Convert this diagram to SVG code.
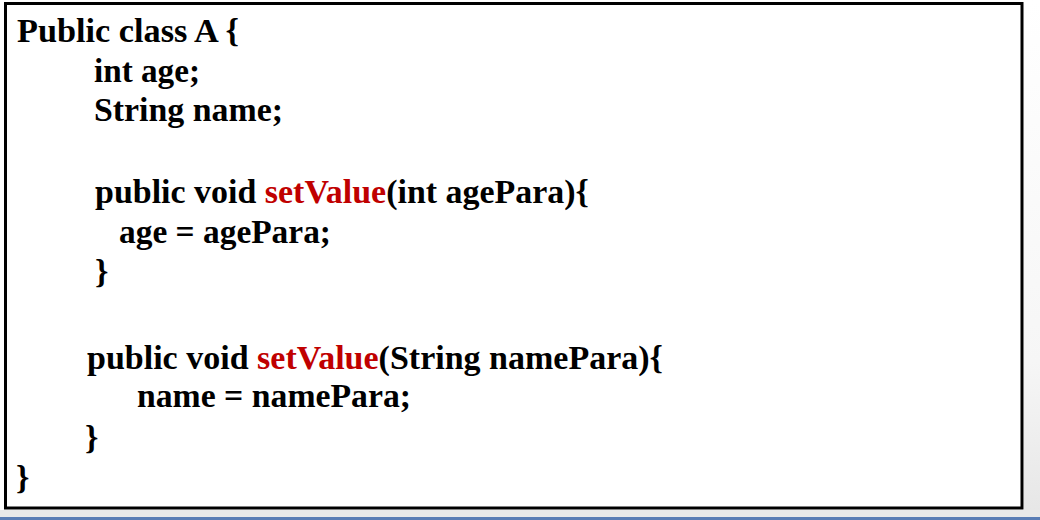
<svg xmlns="http://www.w3.org/2000/svg" width="1040" height="520" viewBox="0 0 1040 520">
  <style>
    .code { font-family: "Liberation Serif", "Times New Roman", serif; font-weight: bold; font-size: 34px; fill: #000000; }
    .kw { fill: #c00000; }
  </style>
  <defs>
    <linearGradient id="sideShade" x1="0" y1="0" x2="0" y2="1">
      <stop offset="0" stop-color="#ffffff"/>
      <stop offset="0.7" stop-color="#f6f6f6"/>
      <stop offset="1" stop-color="#e6e6e6"/>
    </linearGradient>
  </defs>
  <rect x="0" y="0" width="1040" height="520" fill="#ffffff"/>
  <rect x="1024" y="0" width="16" height="517" fill="url(#sideShade)"/>
  <rect x="0" y="510" width="1040" height="7" fill="#e9e9e9"/>
  <rect x="0" y="517" width="1040" height="3" fill="#5a7db5"/>
  <g id="codeBox">
    <rect x="5.5" y="3.5" width="1016.5" height="504.5" fill="#ffffff" stroke="#000000" stroke-width="3"/>
  </g>
  <g id="code">
    <text class="code" x="17" y="42" textLength="222" lengthAdjust="spacingAndGlyphs">Public class A {</text>
    <text class="code" x="94" y="82" textLength="106" lengthAdjust="spacingAndGlyphs">int age;</text>
    <text class="code" x="94" y="121" textLength="189" lengthAdjust="spacingAndGlyphs">String name;</text>
    <text class="code" x="95" y="203" textLength="494" lengthAdjust="spacingAndGlyphs">public void <tspan class="kw">setValue</tspan>(int agePara){</text>
    <text class="code" x="119" y="243" textLength="212" lengthAdjust="spacingAndGlyphs">age = agePara;</text>
    <text class="code" x="95" y="283">}</text>
    <text class="code" x="87" y="369" textLength="576" lengthAdjust="spacingAndGlyphs">public void <tspan class="kw">setValue</tspan>(String namePara){</text>
    <text class="code" x="137" y="407" textLength="274" lengthAdjust="spacingAndGlyphs">name = namePara;</text>
    <text class="code" x="85" y="449">}</text>
    <text class="code" x="16" y="489">}</text>
  </g>
</svg>
